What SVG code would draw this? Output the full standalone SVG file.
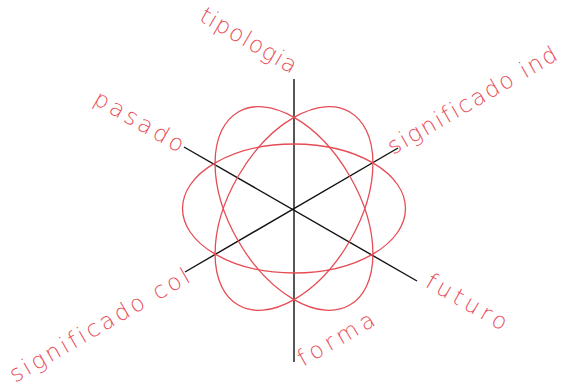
<svg xmlns="http://www.w3.org/2000/svg" width="565" height="386" viewBox="0 0 565 386">
<style>
.orb{fill:none;stroke:#e64c55;stroke-width:1.3}
.ax{stroke:#111;stroke-width:1.4;fill:none}
.axv{stroke:#3a3a3a;stroke-width:1.7;fill:none}
.lbl{font-family:"DejaVu Sans","Liberation Sans",sans-serif;font-size:23px;font-weight:200;fill:#e8505a;font-variant-ligatures:none;font-feature-settings:"liga" 0}
</style>
<rect width="565" height="386" fill="#ffffff"/>
<g id="connectors">
<line class="axv" x1="294" y1="79" x2="294" y2="362"/>
<line class="ax" x1="184" y1="147" x2="417" y2="281"/>
<line class="ax" x1="398" y1="148" x2="185" y2="272"/>
</g>
<g id="orbits">
<ellipse class="orb" cx="294" cy="208.5" rx="111.5" ry="64.5"/>
<ellipse class="orb" cx="294" cy="208.5" rx="111.5" ry="64.5" transform="rotate(60 294 208.5)"/>
<ellipse class="orb" cx="294" cy="208.5" rx="111.5" ry="64.5" transform="rotate(-60 294 208.5)"/>
</g>
<g id="tipologia"><text class="lbl" x="198" y="20" textLength="108" lengthAdjust="spacing" transform="rotate(30 198 20)">tipologia</text></g>
<g id="pasado"><text class="lbl" x="92" y="103" textLength="100" lengthAdjust="spacing" transform="rotate(30 92 103)">pasado</text></g>
<g id="significado-ind"><text class="lbl" x="393" y="155" textLength="192" lengthAdjust="spacing" transform="rotate(-30 393 155)">significado ind</text></g>
<g id="significado-col"><text class="lbl" x="15" y="383" textLength="204" lengthAdjust="spacing" transform="rotate(-30 15 383)">significado col</text></g>
<g id="forma"><text class="lbl" x="303" y="367" textLength="85" lengthAdjust="spacing" transform="rotate(-30 303 367)">forma</text></g>
<g id="futuro"><text class="lbl" x="424" y="286" textLength="90" lengthAdjust="spacing" transform="rotate(30 424 286)">futuro</text></g>
</svg>
